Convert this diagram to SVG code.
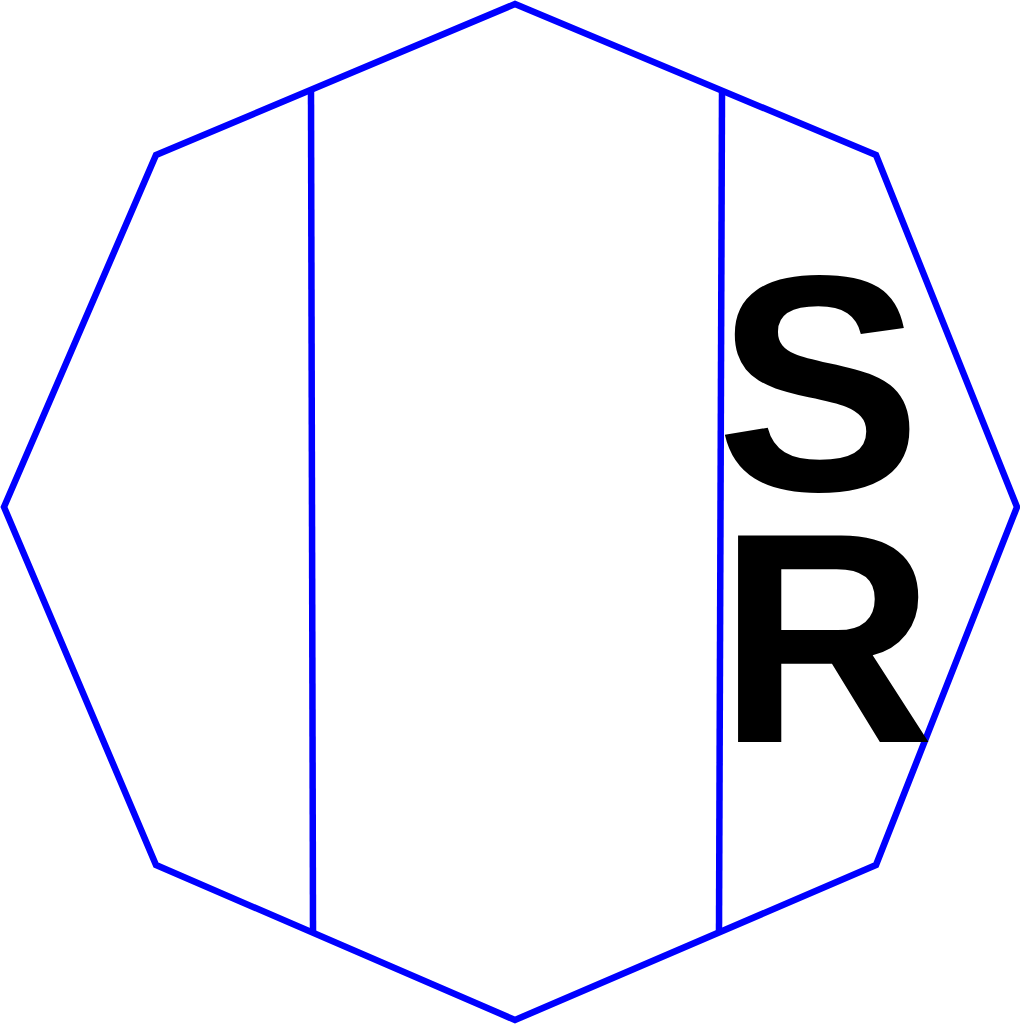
<svg xmlns="http://www.w3.org/2000/svg" width="1020" height="1024" viewBox="0 0 1020 1024">
<style>
.ln{fill:none;stroke:#0000ff;stroke-width:6.5;stroke-linejoin:miter}
.t{font-family:"Liberation Sans",Arial,sans-serif;font-weight:bold;font-size:300px;fill:#000}
</style>
<rect width="1020" height="1024" fill="#fff"/>
<g id="octagon">
<polygon class="ln" points="515,4 876,155 1017,507 876,865 515,1020 156,865 4,507 156,155"/>
</g>
<g id="connectors">
<line class="ln" x1="311" y1="91" x2="313" y2="933"/>
<line class="ln" x1="722" y1="91" x2="719" y2="933"/>
</g>
<g id="label">
<text class="t"><tspan x="716" y="490" style="font-size:308px">S</tspan><tspan x="718" y="742">R</tspan></text>
</g>
</svg>
